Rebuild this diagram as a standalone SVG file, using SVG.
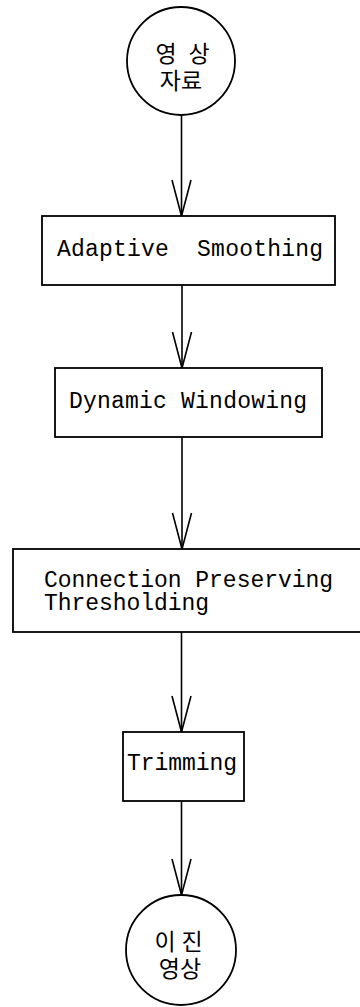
<svg xmlns="http://www.w3.org/2000/svg" width="360" height="1007" viewBox="0 0 360 1007">
  <style>
    .shape { fill: #fff; stroke: #000; stroke-width: 1.8; }
    .edge { fill: none; stroke: #000; stroke-width: 1.6; }
    .lbl { font-family: "Liberation Mono", "DejaVu Sans Mono", monospace; font-size: 23px; fill: #000; }
    .ko { font-family: "Noto Sans CJK KR", "Noto Sans", sans-serif; font-size: 23px; fill: #000; text-anchor: middle; }
  </style>
  <defs>
    <marker id="vhead" markerUnits="userSpaceOnUse" orient="auto" overflow="visible" markerWidth="40" markerHeight="20" refX="0" refY="0">
      <path d="M-36,-9.5 L0,0 L-36,9.5" fill="none" stroke="#000" stroke-width="1.6"/>
    </marker>
  </defs>

  <rect width="360" height="1007" fill="#fff"/>

  <!-- connectors -->
  <g id="edges">
    <line class="edge" x1="181.5" y1="115" x2="181.5" y2="216" marker-end="url(#vhead)"/>
    <line class="edge" x1="182" y1="285" x2="182" y2="368" marker-end="url(#vhead)"/>
    <line class="edge" x1="182" y1="437" x2="182" y2="549" marker-end="url(#vhead)"/>
    <line class="edge" x1="181.5" y1="632" x2="181.5" y2="732" marker-end="url(#vhead)"/>
    <line class="edge" x1="181.5" y1="801" x2="181.5" y2="895" marker-end="url(#vhead)"/>
  </g>

  <!-- input image -->
  <g id="input">
    <circle class="shape" cx="181" cy="61" r="54"/>
    <text class="ko"><tspan x="166 199" y="62">영상</tspan><tspan x="181" y="89">자료</tspan></text>
  </g>

  <g id="smoothing">
    <rect class="shape" x="42" y="216" width="293" height="69"/>
    <text class="lbl" x="57" y="256" textLength="266" xml:space="preserve">Adaptive  Smoothing</text>
  </g>

  <g id="windowing">
    <rect class="shape" x="55" y="368" width="267" height="69"/>
    <text class="lbl" x="69" y="408" textLength="238">Dynamic Windowing</text>
  </g>

  <g id="thresholding">
    <rect class="shape" x="13" y="549" width="352" height="83"/>
    <text class="lbl"><tspan x="44" y="587" textLength="289">Connection Preserving</tspan><tspan x="44" y="610" textLength="165">Thresholding</tspan></text>
  </g>

  <g id="trimming">
    <rect class="shape" x="123" y="732" width="121" height="69"/>
    <text class="lbl" x="127" y="770" textLength="110">Trimming</text>
  </g>

  <!-- binary image -->
  <g id="output">
    <circle class="shape" cx="181" cy="950" r="55"/>
    <text class="ko"><tspan x="165 192" y="950">이진</tspan><tspan x="180" y="977">영상</tspan></text>
  </g>
</svg>
